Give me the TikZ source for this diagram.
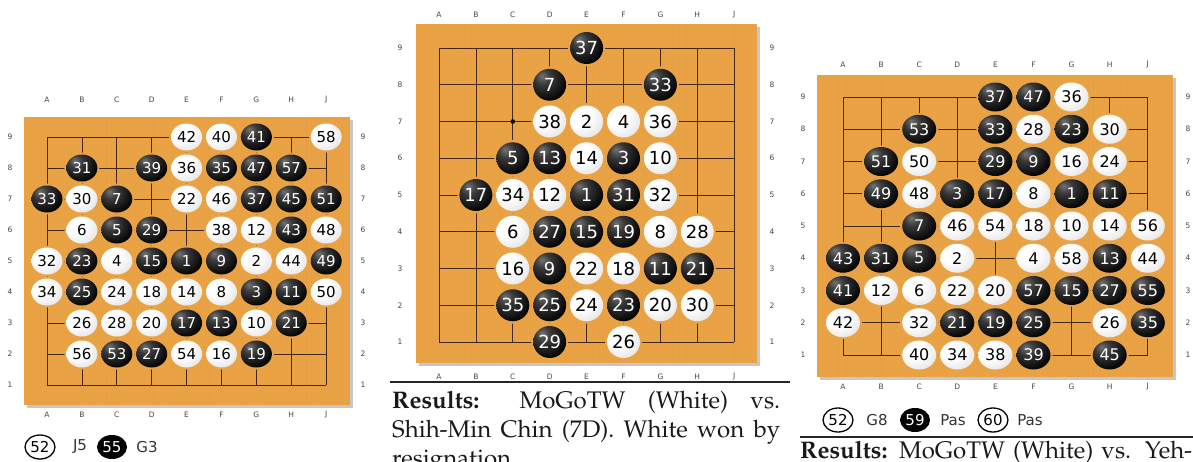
\documentclass[tikz,border=0pt]{standalone}
\usepackage[T1]{fontenc}
\usepackage{fontspec}
\usepackage{graphicx}
\newfontfamily\stonefont{DejaVu Sans}
\newcommand\palfont{\fontencoding{T1}\fontfamily{ppl}\fontsize{24}{29}\selectfont}
\usetikzlibrary{shapes.geometric}
\definecolor{board}{RGB}{233,162,68}
\definecolor{gridc}{RGB}{70,38,20}
\definecolor{labc}{RGB}{70,70,70}
\pgfdeclareradialshading{wball}{\pgfpoint{-12bp}{12bp}}{color(0bp)=(white); color(16bp)=(white); color(40bp)=(black!12); color(58bp)=(black!35); color(66bp)=(black!50); color(80bp)=(black!50)}
\pgfdeclareradialshading{bball}{\pgfpoint{-12bp}{14bp}}{color(0bp)=(black!55); color(12bp)=(black!78); color(32bp)=(black!97); color(80bp)=(black)}
\tikzset{
  stone/.style={ellipse, inner sep=0pt, minimum width=\sw, minimum height=\sh, font=\stonefont\fontsize{\sfs}{\sfs}\selectfont},
  ws/.style={stone, shading=wball, text=black},
  bs/.style={stone, shading=bball, text=white},
  gridl/.style={draw=gridc, line width=0.8pt},
  grain/.style={draw=board!70!brown, line width=0.6pt},
  bshadow/.style={fill=black!22},
  clab/.style={font=\stonefont\fontsize{7.5}{7.5}\selectfont, text=labc, inner sep=0pt},
  legw/.style={ellipse, draw=black, line width=1.3pt, fill=white, minimum width=30pt, minimum height=24pt, inner sep=0pt, font=\stonefont\fontsize{15}{15}\selectfont},
  legb/.style={ellipse, fill=black, text=white, minimum width=30pt, minimum height=24pt, inner sep=0pt, font=\stonefont\fontsize{15}{15}\selectfont},
  legt/.style={font=\stonefont\fontsize{15}{15}\selectfont, text=black!80, inner sep=0pt},
  restext/.style={font=\palfont, text=black!90, inner sep=0pt, anchor=base west},
  rule/.style={line width=1.6pt, draw=black!85}
}
% #1 prefix, #2 left, #3 top, #4 right, #5 bottom
\newcommand\goboard[5]{%
  \fill[bshadow] ({#2+3},{#3+3}) rectangle ({#4+3},{#5+3});
  \fill[board] (#2,#3) rectangle (#4,#5);
  \pgfmathsetmacro\bw{#4-#2-1}
  \foreach \t in {1,3.7,...,\bw} {\pgfmathsetmacro\op{0.04+0.14*rnd}\draw[grain,opacity=\op] ({#2+\t},#3) -- ({#2+\t},#5);}
  \foreach \i in {0,...,8} {
    \draw[gridl] ({\gx+\i*\gdx},\gy) -- ({\gx+\i*\gdx},{\gy+8*\gdy});
    \draw[gridl] (\gx,{\gy+\i*\gdy}) -- ({\gx+8*\gdx},{\gy+\i*\gdy});
  }
  \foreach \c/\r/\n/\s in \stones {
    \fill[board] ({\gx+(\c-1)*\gdx},{\gy+(9-\r)*\gdy}) ellipse [x radius={\gdx/2}, y radius={\gdy/2}];
  }
  \foreach \c/\r/\n/\s in \stones {
    \node[\s] (#1\n) at ({\gx+(\c-1)*\gdx},{\gy+(9-\r)*\gdy}) {\n};
  }
  \foreach \L [count=\i from 0] in {A,B,C,D,E,F,G,H,J} {
    \node[clab] (#1T\L) at ({\gx+\i*\gdx},\labT) {\L};
    \node[clab] (#1B\L) at ({\gx+\i*\gdx},\labB) {\L};
  }
  \foreach \r in {1,...,9} {
    \node[clab] (#1l\r) at (\labL,{\gy+(9-\r)*\gdy}) {\r};
    \node[clab] (#1r\r) at (\labR,{\gy+(9-\r)*\gdy}) {\r};
  }
}
\begin{document}
\begin{tikzpicture}[x=1pt,y=-1pt]
\useasboundingbox (0,0) rectangle (1193,461);
\clip (0,0) rectangle (1193,461);
\fill[white] (0,0) rectangle (1193,461);

% ---------- left board ----------
\def\gx{47}\def\gy{137}\def\gdx{34.9}\def\gdy{31}
\def\sw{31}\def\sh{27}\def\sfs{15}
\def\labT{100}\def\labB{415}\def\labL{10}\def\labR{363}
\def\stones{5/9/42/ws, 6/9/40/ws, 7/9/41/bs, 9/9/58/ws,
 2/8/31/bs, 4/8/39/bs, 5/8/36/ws, 6/8/35/bs, 7/8/47/bs, 8/8/57/bs,
 1/7/33/bs, 2/7/30/ws, 3/7/7/bs, 5/7/22/ws, 6/7/46/ws, 7/7/37/bs, 8/7/45/bs, 9/7/51/bs,
 2/6/6/ws, 3/6/5/bs, 4/6/29/bs, 6/6/38/ws, 7/6/12/ws, 8/6/43/bs, 9/6/48/ws,
 1/5/32/ws, 2/5/23/bs, 3/5/4/ws, 4/5/15/bs, 5/5/1/bs, 6/5/9/bs, 7/5/2/ws, 8/5/44/ws, 9/5/49/bs,
 1/4/34/ws, 2/4/25/bs, 3/4/24/ws, 4/4/18/ws, 5/4/14/ws, 6/4/8/ws, 7/4/3/bs, 8/4/11/bs, 9/4/50/ws,
 2/3/26/ws, 3/3/28/ws, 4/3/20/ws, 5/3/17/bs, 6/3/13/bs, 7/3/10/ws, 8/3/21/bs,
 2/2/56/ws, 3/2/53/bs, 4/2/27/bs, 5/2/54/ws, 6/2/16/ws, 7/2/19/bs}
\goboard{L}{24}{117}{350}{405}
\node[legw] (LL52) at (40,447) {52};
\node[legt] (LLJ5) at (80,447) {J5};
\node[legb] (LL55) at (112,447) {55};
\node[legt] (LLG3) at (147,447) {G3};

% ---------- middle board ----------
\def\gx{439}\def\gy{48}\def\gdx{36.9}\def\gdy{36.75}
\def\sw{33}\def\sh{32}\def\sfs{18}
\def\labT{15}\def\labB{377}\def\labL{400}\def\labR{772}
\def\stones{5/9/37/bs,
 4/8/7/bs, 7/8/33/bs,
 4/7/38/ws, 5/7/2/ws, 6/7/4/ws, 7/7/36/ws,
 3/6/5/bs, 4/6/13/bs, 5/6/14/ws, 6/6/3/bs, 7/6/10/ws,
 2/5/17/bs, 3/5/34/ws, 4/5/12/ws, 5/5/1/bs, 6/5/31/bs, 7/5/32/ws,
 3/4/6/ws, 4/4/27/bs, 5/4/15/bs, 6/4/19/bs, 7/4/8/ws, 8/4/28/ws,
 3/3/16/ws, 4/3/9/bs, 5/3/22/ws, 6/3/18/ws, 7/3/11/bs, 8/3/21/bs,
 3/2/35/bs, 4/2/25/bs, 5/2/24/ws, 6/2/23/bs, 7/2/20/ws, 8/2/30/ws,
 4/1/29/bs, 6/1/26/ws}
\goboard{M}{416}{24}{757}{363}
\fill[black] ({439+2*36.9},{48+2*36.75}) circle (2.3);
\draw[rule] (390,382) -- (790,382);
\node[restext] (MR1) at (392,408) {\makebox[388pt][s]{\textbf{Results:} MoGoTW (White) vs.}};
\node[restext] (MR2) at (392,437) {\makebox[388pt][s]{Shih-Min Chin (7D). White won by}};
\node[restext] (MR3) at (392,466) {resignation.};

% ---------- right board ----------
\def\gx{843}\def\gy{97}\def\gdx{38.1}\def\gdy{32.25}
\def\sw{34}\def\sh{29}\def\sfs{16}
\def\labT{65}\def\labB{387}\def\labL{803}\def\labR{1188}
\def\stones{5/9/37/bs, 6/9/47/bs, 7/9/36/ws,
 3/8/53/bs, 5/8/33/bs, 6/8/28/ws, 7/8/23/bs, 8/8/30/ws,
 2/7/51/bs, 3/7/50/ws, 5/7/29/bs, 6/7/9/bs, 7/7/16/ws, 8/7/24/ws,
 2/6/49/bs, 3/6/48/ws, 4/6/3/bs, 5/6/17/bs, 6/6/8/ws, 7/6/1/bs, 8/6/11/bs,
 3/5/7/bs, 4/5/46/ws, 5/5/54/ws, 6/5/18/ws, 7/5/10/ws, 8/5/14/ws, 9/5/56/ws,
 1/4/43/bs, 2/4/31/bs, 3/4/5/bs, 4/4/2/ws, 6/4/4/ws, 7/4/58/ws, 8/4/13/bs, 9/4/44/ws,
 1/3/41/bs, 2/3/12/ws, 3/3/6/ws, 4/3/22/ws, 5/3/20/ws, 6/3/57/bs, 7/3/15/bs, 8/3/27/bs, 9/3/55/bs,
 1/2/42/ws, 3/2/32/ws, 4/2/21/bs, 5/2/19/bs, 6/2/25/bs, 8/2/26/ws, 9/2/35/bs,
 3/1/40/ws, 4/1/34/ws, 5/1/38/ws, 6/1/39/bs, 8/1/45/bs}
\goboard{R}{817}{75}{1173}{377}
\node[legw] (RL52) at (838,420) {52};
\node[legt] (RLG8) at (877,420) {G8};
\node[legb] (RL59) at (915,420) {59};
\node[legt] (RLP1) at (953,420) {Pas};
\node[legw] (RL60) at (993,420) {60};
\node[legt] (RLP2) at (1030,420) {Pas};
\draw[rule] (800,437) -- (1193,437);
\node[restext] (RR1) at (800,458) {\makebox[392pt][s]{\textbf{Results:} MoGoTW (White) vs. Yeh-}};
\end{tikzpicture}
\end{document}
